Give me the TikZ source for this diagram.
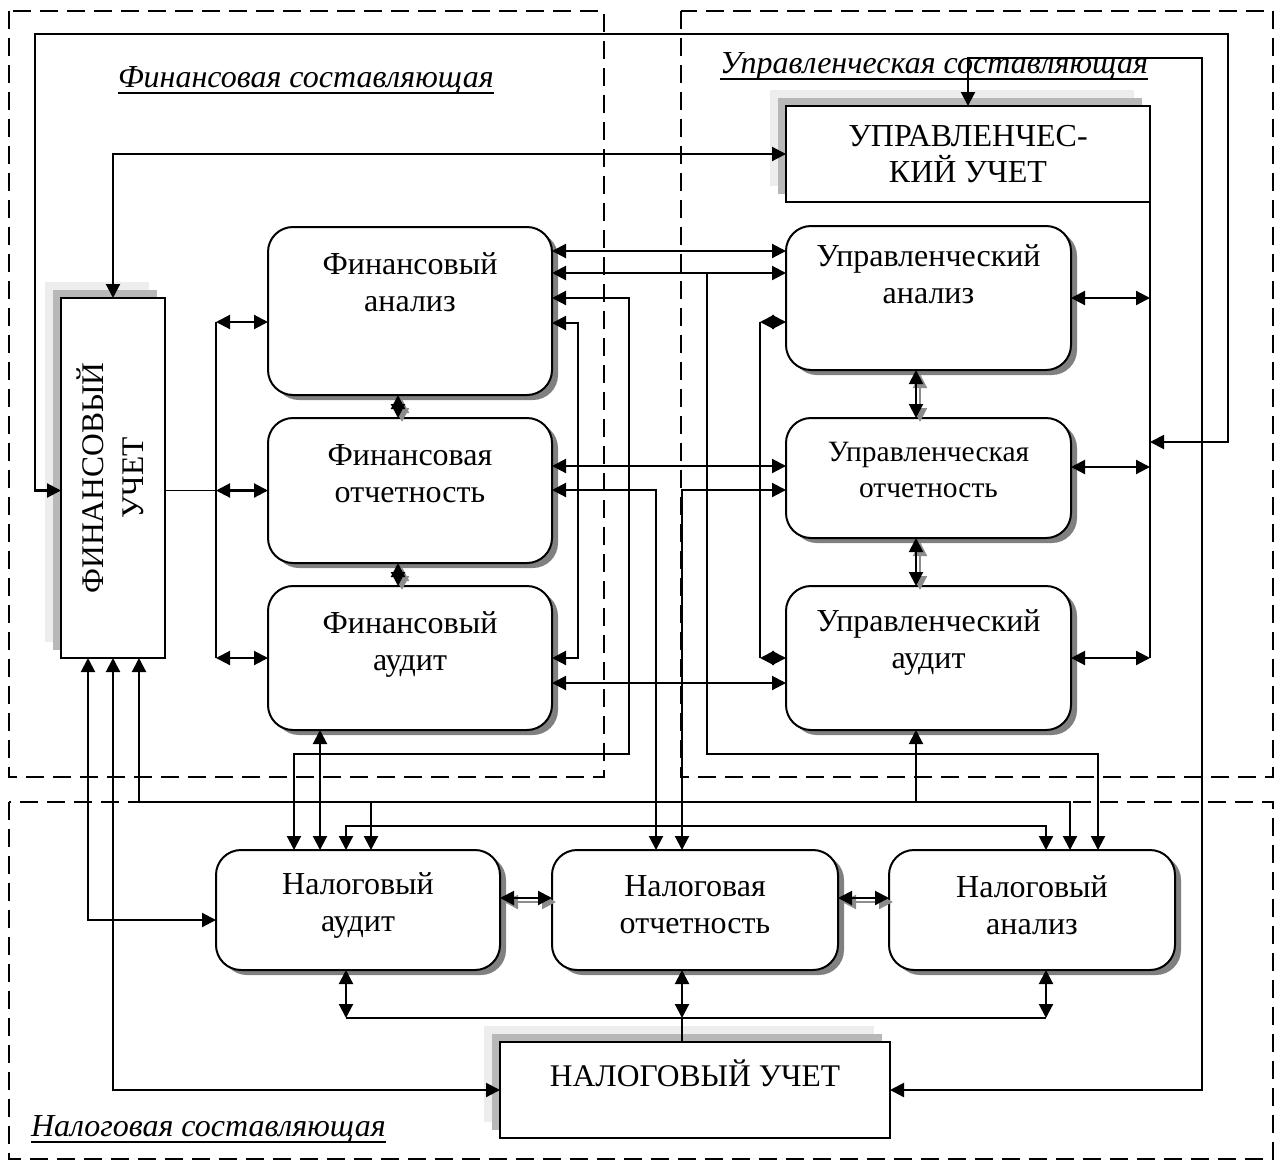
\documentclass[tikz,border=0pt]{standalone}
\usepackage{fontspec}
\setmainfont{Liberation Serif}
\usetikzlibrary{arrows.meta,shadows}

\begin{document}
\begin{tikzpicture}[x=1pt,y=-1pt,
  >={Triangle[length=14pt,width=14pt]},
  every node/.style={inner sep=0pt,outer sep=0pt},
  region/.style={line width=2pt,dash pattern=on 18pt off 9pt},
  sqbox/.style={draw,line width=1.8pt,fill=white,
    general shadow={fill=black!7,shadow xshift=-16pt,shadow yshift=16pt},
    general shadow={fill=black!28,shadow xshift=-8pt,shadow yshift=8pt}},
  rbox/.style={draw,line width=2pt,fill=white,rounded corners=25pt,
    general shadow={fill=black!50,shadow xshift=6pt,shadow yshift=-5pt}},
  txt/.style={align=center,font=\fontsize{32}{37}\selectfont},
  smalltxt/.style={align=center,font=\fontsize{29.5}{36}\selectfont},
  title/.style={anchor=base west,font=\itshape\fontsize{32}{36}\selectfont},
  uline/.style={line width=1.6pt},
  link/.style={line width=2.1pt,<->},
  oneway/.style={line width=2.1pt,->},
  bus/.style={line width=1.5pt},
  ghost/.style={draw=black!45,transform canvas={shift={(4pt,-4pt)}}}
]
\useasboundingbox (0,0) rectangle (1276,1162);

% component regions
\draw[region] (9,11) rectangle (604,777);
\draw[region] (681,11) rectangle (1273,777);
\draw[region] (9,802) rectangle (1273,1159);

\node[title] (tf) at (118,87) {Финансовая составляющая};
\node[title] (tu) at (720,73) {Управленческая составляющая};
\node[title] (tn) at (31,1136) {Налоговая составляющая};
\draw[uline] ([yshift=-6pt]tf.base west) -- ([yshift=-6pt]tf.base east);
\draw[uline] ([yshift=-6pt]tu.base west) -- ([yshift=-6pt]tu.base east);
\draw[uline] ([yshift=-6pt]tn.base west) -- ([yshift=-6pt]tn.base east);

% accounting blocks
\node[sqbox,minimum width=104pt,minimum height=360pt] (fu) at (113,478) {};
\node[txt,rotate=90,font=\fontsize{31.5}{40}\selectfont] (fu-t) at (110,478) {ФИНАНСОВЫЙ\\УЧЕТ};
\node[sqbox,txt,minimum width=364pt,minimum height=96pt,font=\fontsize{32}{36}\selectfont] (uu) at (968,154) {УПРАВЛЕНЧЕС-\\КИЙ УЧЕТ};
\node[sqbox,minimum width=390pt,minimum height=96pt] (nu) at (695,1090) {};
\node[txt,font=\fontsize{31.5}{36}\selectfont] (nu-t) at (695,1073) {НАЛОГОВЫЙ УЧЕТ};

% financial column
\node[rbox,minimum width=284pt,minimum height=168pt] (fa) at (410,311) {};
\node[txt] (fa-t) at (410,282) {Финансовый\\анализ};
\node[rbox,minimum width=284pt,minimum height=145pt] (fo) at (410,490.5) {};
\node[txt] (fo-t) at (410,474) {Финансовая\\отчетность};
\node[rbox,minimum width=284pt,minimum height=144pt] (fau) at (410,658) {};
\node[txt] (fau-t) at (410,644) {Финансовый\\аудит};

% management column
\node[rbox,minimum width=285pt,minimum height=144pt] (ua) at (928.5,298) {};
\node[txt] (ua-t) at (928.5,274) {Управленческий\\анализ};
\node[rbox,minimum width=285pt,minimum height=120pt] (uo) at (928.5,478) {};
\node[smalltxt] (uo-t) at (928.5,470) {Управленческая\\отчетность};
\node[rbox,minimum width=285pt,minimum height=144pt] (uau) at (928.5,658) {};
\node[txt] (uau-t) at (928.5,642) {Управленческий\\аудит};

% tax row
\node[rbox,minimum width=284pt,minimum height=120pt] (na) at (358,910) {};
\node[txt] (na-t) at (358,905) {Налоговый\\аудит};
\node[rbox,minimum width=286pt,minimum height=120pt] (no) at (695,910) {};
\node[txt] (no-t) at (695,905) {Налоговая\\отчетность};
\node[rbox,minimum width=286pt,minimum height=120pt] (nan) at (1032,910) {};
\node[txt] (nan-t) at (1032,905) {Налоговый\\анализ};

% routing points
\coordinate (lbT) at (216,322);
\coordinate (lbB) at (216,658);
\coordinate (rbB) at (1150,658);
\coordinate (rbIn) at (1150,442);
\coordinate (loopL) at (35,34);
\coordinate (loopR) at (1228,34);
\coordinate (loopB) at (1202,58);
\coordinate (mF) at (398,0);
\coordinate (mU) at (916,0);
\coordinate (ul) at (760,322);
\coordinate (h251) at (0,251);
\coordinate (h273) at (0,273);
\coordinate (h466) at (0,466);
\coordinate (h467) at (0,467);
\coordinate (h683) at (0,683);
\coordinate (h898) at (0,898);
\coordinate (br707) at (707,273);
\coordinate (br1098) at (1098,754);
\coordinate (c629) at (629,298);
\coordinate (c294) at (294,754);
\coordinate (c578) at (578,323);
\coordinate (c656) at (656,490);
\coordinate (c682) at (682,490);
\coordinate (v320) at (320,0);
\coordinate (v88) at (88,920);
\coordinate (v139) at (139,802);
\coordinate (t1070) at (1070,802);
\coordinate (t371) at (371,802);
\coordinate (t916) at (916,802);
\coordinate (v346) at (346,826);
\coordinate (v1046) at (1046,826);
\coordinate (bL) at (346,1018);
\coordinate (bM) at (682,1018);
\coordinate (bR) at (1046,1018);

% left bus of the financial column
\draw[bus] (fu.east |- fo.west) -- (lbT |- fo.west);
\draw[bus] (lbT) -- (lbB);
\draw[link] (lbT) -- (fa.west |- lbT);
\draw[link] (lbT |- fo.west) -- (fo.west);
\draw[link] (lbB) -- (fau.west |- lbB);

% stacked links with shade
\foreach \a/\b/\c in {fa/fo/mF,fo/fau/mF,ua/uo/mU,uo/uau/mU}{
  \draw[link,ghost] (\a.south -| \c) -- (\b.north -| \c);
  \draw[link] (\a.south -| \c) -- (\b.north -| \c);
}
\draw[link,ghost] (na.east |- h898) -- (no.west |- h898);
\draw[link] (na.east |- h898) -- (no.west |- h898);
\draw[link,ghost] (no.east |- h898) -- (nan.west |- h898);
\draw[link] (no.east |- h898) -- (nan.west |- h898);

% right bus of the management column
\draw[bus] (uu.south east) -- (rbB);
\draw[link] (ua.east) -- (ua.east -| rbB);
\draw[link] (uo.east |- h467) -- (rbB |- h467);
\draw[link] (uau.east) -- (rbB);

% management analysis <-> management audit
\draw[bus] (ul) -- (ul |- uau.west);
\draw[link] (ul) -- (ua.west |- ul);
\draw[link] (ul |- uau.west) -- (uau.west);

% outer loops
\draw[link] (fu.west |- fo.west) -| (loopL) -- (loopR) |- (rbIn);
\draw[link] (uu.north) |- (loopB) |- (nu.east);
\draw[link] (fu.north) |- (uu.west);

% financial <-> management links
\draw[link] (fa.east |- h251) -- (ua.west |- h251);
\draw[link] (fa.east |- h273) -- (ua.west |- h273);
\draw[oneway] (br707) |- (br1098) -- (nan.north -| br1098);
\draw[link] (fa.east |- c629) -- (c629) -- (c629 |- c294) -- (c294) -- (na.north -| c294);
\draw[link] (fa.east |- c578) -- (c578) |- (fau.east);
\draw[link] (fo.east |- h466) -- (uo.west |- h466);
\draw[link] (fo.east |- c656) -- (c656) -- (no.north -| c656);
\draw[link] (uo.west |- c682) -- (c682) -- (no.north -| c682);
\draw[link] (fau.east |- h683) -- (uau.west |- h683);
\draw[link] (fau.south -| v320) -- (na.north -| v320);

% links from the financial accounting block
\draw[link] (fu.south -| v88) |- (na.west |- v88);
\draw[link] (fu.south) |- (nu.west);
\draw[link] (fu.south -| v139) |- (t1070) -- (nan.north -| t1070);
\draw[oneway] (t371) -- (na.north -| t371);
\draw[oneway] (t916) -- (uau.south -| t916);
\draw[link] (na.north -| v346) |- (v1046) -- (nan.north -| v1046);

% tax bus
\draw[bus] (bL) -- (bR);
\draw[link] (na.south -| bL) -- (bL);
\draw[link] (no.south -| bM) -- (bM);
\draw[link] (nan.south -| bR) -- (bR);
\draw[bus] (bM) -- (nu.north -| bM);
\end{tikzpicture}
\end{document}
